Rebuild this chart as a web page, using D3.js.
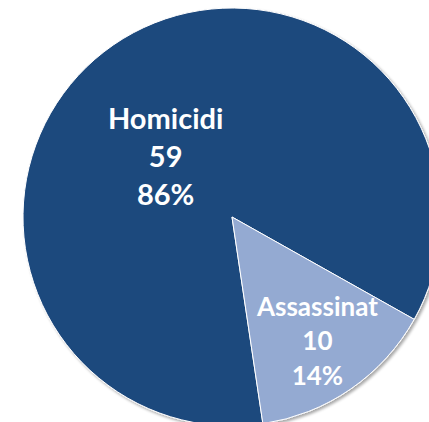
<!DOCTYPE html>
<html>
<head>
<meta charset="utf-8">
<script src="https://cdn.jsdelivr.net/npm/d3@7"></script>
<style>
  body { margin: 0; background: #fff; }
  svg { display: block; }
  .lbl { font-family: Lato, "Open Sans", sans-serif; font-weight: bold; fill: #fff; }
</style>
</head>
<body>
<div id="chart"></div>
<script>
// data
var categories = ['Homicidi', 'Assassinat']
var values = [59, 10]
var colors = ['#1f497d', '#94aad2']
var fontSizes = [29, 26]
// label position along the slice (fraction of radius) and angular nudge in degrees
var labelRadius = [0.43, 0.72]
var labelNudge = [-13, 0]

var width = 429
var height = 422
var cx = 232
var cy = 217
var radius = 209
var startDeg = 171.5

var total = d3.sum(values)
var data = categories.map(function (c, i) {
  return { name: c, value: values[i], i: i }
})

var pie = d3.pie()
  .sort(null)
  .value(function (d) { return d.value })
  .startAngle(startDeg * Math.PI / 180)
  .endAngle(startDeg * Math.PI / 180 + Math.PI * 2)

var arc = d3.arc().innerRadius(0).outerRadius(radius)

var svg = d3.select('#chart').append('svg')
  .attr('width', width)
  .attr('height', height)

var defs = svg.append('defs')
var f = defs.append('filter').attr('id', 'shadow')
  .attr('x', '-10%').attr('y', '-10%').attr('width', '120%').attr('height', '120%')
f.append('feGaussianBlur').attr('in', 'SourceAlpha').attr('stdDeviation', 1.5)
f.append('feOffset').attr('dx', 1.5).attr('dy', 1.5).attr('result', 'blur')
f.append('feComponentTransfer').append('feFuncA').attr('type', 'linear').attr('slope', 0.35)
var merge = f.append('feMerge')
merge.append('feMergeNode')
merge.append('feMergeNode').attr('in', 'SourceGraphic')

var g = svg.append('g')
  .attr('transform', 'translate(' + cx + ',' + cy + ')')

var arcs = pie(data)

g.append('g').attr('filter', 'url(#shadow)')
  .selectAll('path')
  .data(arcs)
  .enter().append('path')
  .attr('d', arc)
  .attr('fill', function (d) { return colors[d.data.i] })
  .attr('stroke', '#fff')
  .attr('stroke-width', 1)

var labels = g.append('g').selectAll('text')
  .data(arcs)
  .enter().append('text')
  .attr('class', 'lbl')
  .attr('text-anchor', 'middle')
  .style('font-size', function (d) { return fontSizes[d.data.i] + 'px' })
  .each(function (d) {
    var i = d.data.i
    var a = (d.startAngle + d.endAngle) / 2 + labelNudge[i] * Math.PI / 180
    var r = radius * labelRadius[i]
    var x = Math.sin(a) * r
    var y = -Math.cos(a) * r
    var fs = fontSizes[i]
    var lh = fs * 1.32
    var lines = [d.data.name, String(d.data.value), Math.round(d.data.value / total * 100) + '%']
    var t = d3.select(this)
    lines.forEach(function (line, k) {
      t.append('tspan')
        .attr('x', x)
        .attr('y', y + (k - 1) * lh + fs * 0.36)
        .text(line)
    })
  })
</script>
</body>
</html>
